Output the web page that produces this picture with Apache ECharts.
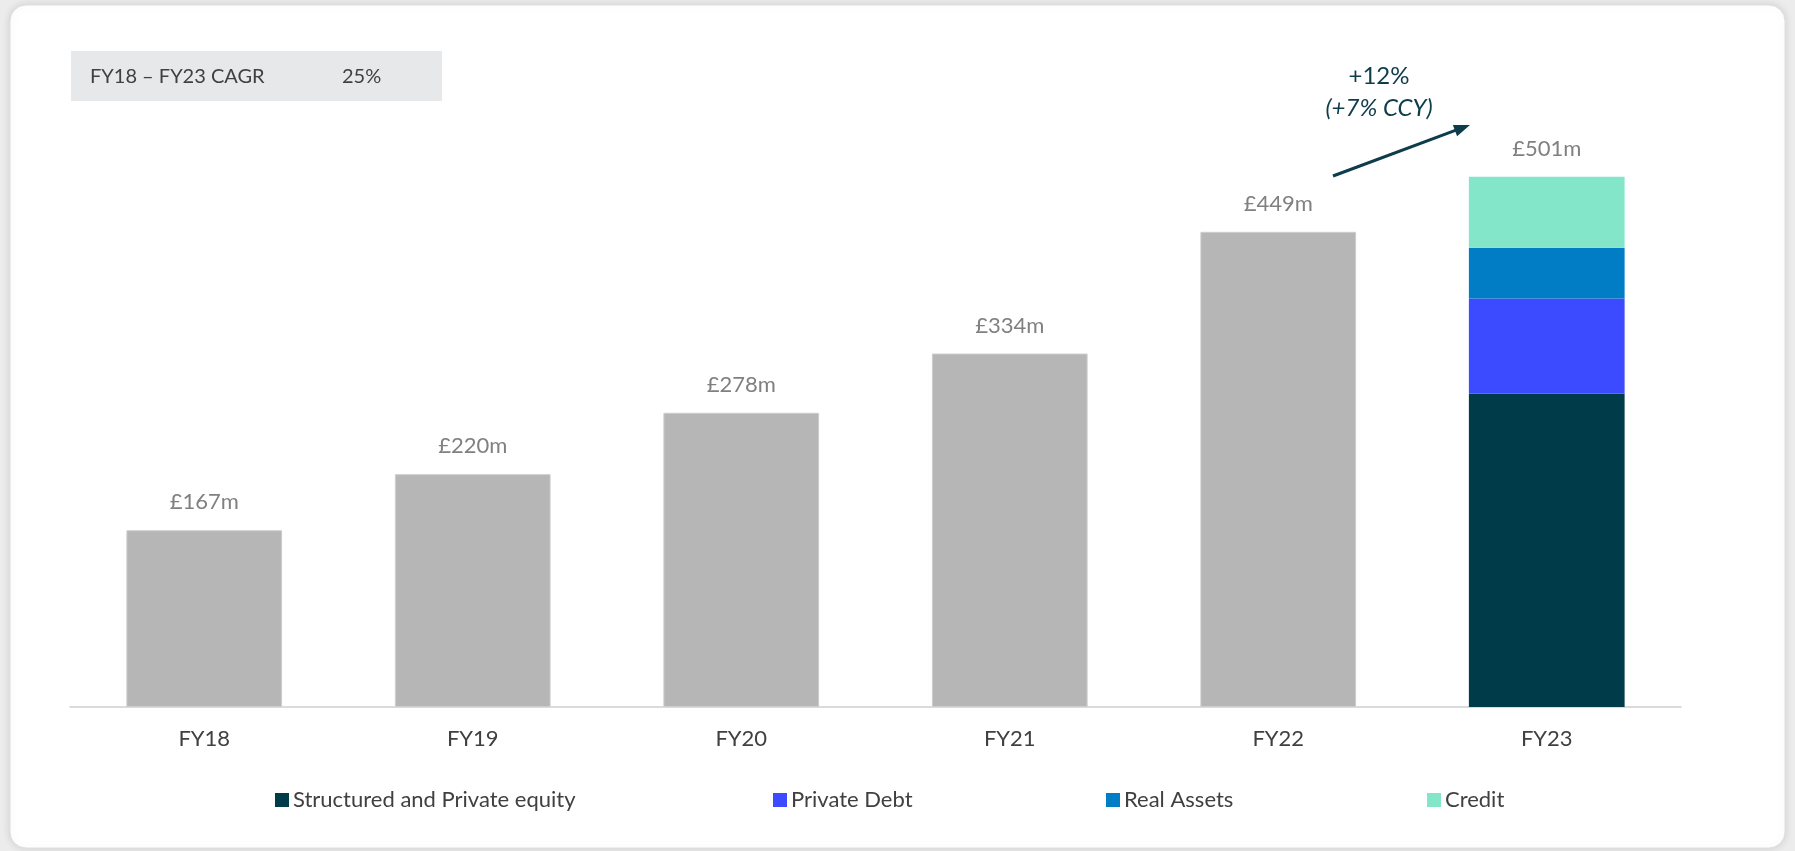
<!DOCTYPE html>
<html>
<head>
<meta charset="utf-8">
<script src="https://cdn.jsdelivr.net/npm/echarts@6/dist/echarts.min.js"></script>
<style>
html,body{margin:0;padding:0;background:#ffffff;}
#c{width:1795px;height:851px;}
</style>
</head>
<body>
<div id="c"></div>
<script>
const categories = ['FY18','FY19','FY20','FY21','FY22','FY23'];
const totalAum = [167,220,278,334,449,null];
const structuredPE = [null,null,null,null,null,296];
const privateDebt = [null,null,null,null,null,90];
const realAssets = [null,null,null,null,null,48];
const credit = [null,null,null,null,null,67];
const totals = [167,220,278,334,449,501];
const cagrLabel = 'FY18 – FY23 CAGR';
const cagrValue = '25%';
const growthLabel = '+12%';
const growthCcy = '(+7% CCY)';

const FONT = 'Lato';
const chart = echarts.init(document.getElementById('c'));

function legendAt(name, left){
  return {
    data:[name], left:left, top:789, padding:0, icon:'rect',
    itemWidth:14, itemHeight:14, itemGap:0,
    textStyle:{color:'#404040', fontSize:22, fontFamily:FONT, padding:[0,0,0,-1]},
    selectedMode:false
  };
}
const valLabel = {
  show:true, position:'top', distance:17, color:'#808080',
  fontSize:22, fontFamily:FONT,
  formatter:p => '£' + totals[p.dataIndex] + 'm'
};

chart.setOption({
  backgroundColor:'#ececec',
  animation:false,
  grid:{left:70, right:114, top:72, bottom:144, containLabel:false},
  xAxis:{
    type:'category', data:categories,
    axisTick:{show:false},
    axisLine:{lineStyle:{color:'#d0d0d0', width:1.5}},
    axisLabel:{color:'#404040', fontSize:22, fontFamily:FONT, margin:21}
  },
  yAxis:{type:'value', min:0, max:600, show:false, splitLine:{show:false}},
  legend:[
    legendAt('Structured and Private equity', 275),
    legendAt('Private Debt', 773),
    legendAt('Real Assets', 1106),
    legendAt('Credit', 1427)
  ],
  series:[
    {name:'Total', type:'bar', stack:'a', barWidth:'58%', data:totalAum,
     itemStyle:{color:'#b6b6b6', borderColor:'#cdcdcd', borderWidth:1},
     label:valLabel},
    {name:'Structured and Private equity', type:'bar', stack:'a', data:structuredPE,
     itemStyle:{color:'#003b49'}},
    {name:'Private Debt', type:'bar', stack:'a', data:privateDebt,
     itemStyle:{color:'#3c4bff'}},
    {name:'Real Assets', type:'bar', stack:'a', data:realAssets,
     itemStyle:{color:'#007dc5'}},
    {name:'Credit', type:'bar', stack:'a', data:credit,
     itemStyle:{color:'#83e6c8'}, label:valLabel}
  ],
  graphic:[
    {type:'rect', z:-10, shape:{x:10, y:5, width:1775, height:843, r:16},
     style:{fill:'#ffffff', stroke:'#dedede', lineWidth:1, shadowBlur:8, shadowColor:'rgba(0,0,0,0.12)'}},
    {type:'rect', shape:{x:71, y:51, width:371, height:50}, style:{fill:'#e7e8ea'}},
    {type:'text', x:90, y:77, style:{text:cagrLabel, fill:'#404040', font:'20px '+FONT, verticalAlign:'middle'}},
    {type:'text', x:342, y:77, style:{text:cagrValue, fill:'#404040', font:'20px '+FONT, verticalAlign:'middle'}},
    {type:'text', x:1379, y:76, style:{text:growthLabel, fill:'#0d3c4b', font:'24px '+FONT, align:'center', verticalAlign:'middle'}},
    {type:'text', x:1379, y:108, style:{text:growthCcy, fill:'#0d3c4b', font:'italic 24px '+FONT, align:'center', verticalAlign:'middle'}},
    {type:'line', shape:{x1:1333, y1:176, x2:1456, y2:130.2}, style:{stroke:'#0d3c4b', lineWidth:3}},
    {type:'polygon', shape:{points:[[1470,125],[1457.1,136.2],[1452.9,125.0]]}, style:{fill:'#0d3c4b'}}
  ]
});
</script>
</body>
</html>
